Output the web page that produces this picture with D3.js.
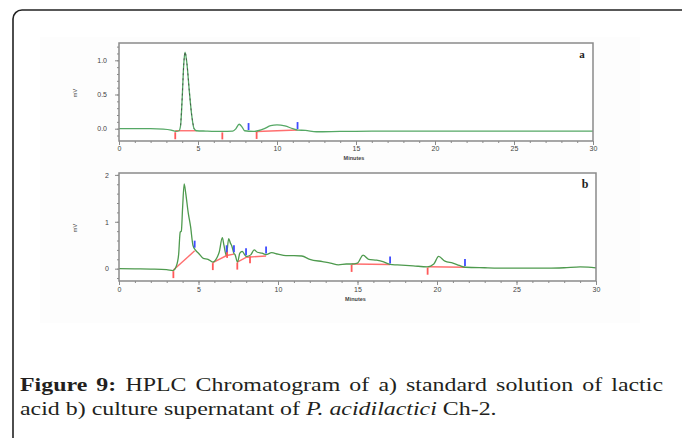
<!DOCTYPE html>
<html lang="en">
<head>
<meta charset="UTF-8">
<title>HPLC Chromatogram</title>
<script src="https://cdn.jsdelivr.net/npm/d3@7"></script>
<style>
  body { margin: 0; background: #fff; }
  svg { display: block; font-family: Arial, "Liberation Sans", sans-serif; }
  .frame { fill: none; stroke: #8a8a8a; stroke-width: 1.5; }
  .axis text { font-size: 7px; fill: #444; }
  .axis line { stroke: #8a8a8a; }
  .caption { font-family: "Palatino Linotype", Palatino, "Book Antiqua", "Liberation Serif", serif; font-size: 18.5px; fill: #231f20; }
</style>
</head>
<body>
<svg width="682" height="438"></svg>
<script>
// ---- panel a: standard lactic acid ----
const timeA   = [0, 1, 2, 2.8, 3.3, 3.6, 3.8, 3.9, 4.0, 4.1, 4.18, 4.3, 4.45, 4.6, 4.75, 4.9, 5.5, 6.5, 7.2, 7.4, 7.6, 7.8, 7.95, 8.5, 8.8, 9.2, 9.6, 10.0, 10.5, 11.0, 11.3, 11.8, 12.5, 14, 16, 20, 25, 28, 30];
const signalA = [0, 0, 0, -0.005, -0.02, -0.04, -0.03, 0.05, 0.45, 0.95, 1.12, 0.95, 0.55, 0.2, 0.0, -0.03, -0.035, -0.04, -0.035, 0.0, 0.065, 0.02, -0.03, -0.04, -0.03, 0.0, 0.045, 0.055, 0.04, 0.0, -0.02, -0.025, -0.045, -0.04, -0.035, -0.035, -0.035, -0.035, -0.035];
const startTicksA = [3.56, 6.54, 8.71];
const endTicksA   = [8.2, 11.3];
const baselinesA  = [
  [[3.56, -0.03], [4.9, -0.03]],
  [[8.71, -0.04], [11.3, -0.02]]
];

// ---- panel b: culture supernatant ----
const timeB   = [0, 1, 2, 3, 3.4, 3.6, 3.75, 3.85, 3.92, 4.0, 4.1, 4.2, 4.35, 4.5, 4.65, 4.8, 5.0, 5.3, 5.6, 5.9, 6.1, 6.3, 6.5, 6.6, 6.75, 6.9, 7.0, 7.1, 7.22, 7.3, 7.45, 7.6, 7.75, 7.9, 8.0, 8.15, 8.3, 8.5, 8.7, 9.0, 9.25, 9.6, 10.0, 10.5, 11.0, 11.5, 12.0, 12.8, 13.3, 13.8, 14.3, 14.6, 15.0, 15.35, 15.7, 16.2, 16.6, 17.05, 17.5, 18.5, 19.4, 19.8, 20.1, 20.5, 21.0, 21.4, 21.8, 23, 25, 27, 28, 29, 29.5, 30];
const signalB = [0, -0.005, -0.01, -0.02, -0.04, 0.05, 0.3, 0.78, 0.8, 1.3, 1.81, 1.6, 1.2, 0.9, 0.5, 0.4, 0.33, 0.22, 0.2, 0.14, 0.2, 0.35, 0.66, 0.5, 0.28, 0.64, 0.55, 0.48, 0.33, 0.3, 0.14, 0.33, 0.37, 0.3, 0.26, 0.27, 0.3, 0.4, 0.35, 0.33, 0.3, 0.34, 0.31, 0.28, 0.28, 0.27, 0.2, 0.15, 0.12, 0.08, 0.1, 0.1, 0.12, 0.29, 0.2, 0.18, 0.15, 0.09, 0.08, 0.06, 0.04, 0.1, 0.26, 0.16, 0.12, 0.07, 0.03, 0.02, 0.01, 0.01, 0.02, 0.04, 0.035, 0.015];
const startTicksB = [3.42, 5.9, 6.8, 7.44, 8.24, 14.63, 19.41];
const endTicksB   = [4.76, 6.77, 7.23, 7.99, 9.25, 17.05, 21.76];
const baselinesB  = [
  [[3.42, -0.03], [4.76, 0.38]],
  [[5.9, 0.13], [6.77, 0.28], [7.23, 0.31]],
  [[7.44, 0.14], [7.99, 0.24], [8.24, 0.25], [9.25, 0.27]],
  [[14.63, 0.1], [17.05, 0.09]],
  [[19.41, 0.04], [21.76, 0.03]]
];

const xTicks = [0, 5, 10, 15, 20, 25, 30];
const captionBold = "Figure 9:";
const captionLine1 = "HPLC Chromatogram of a) standard solution of lactic";
const captionLine2a = "acid b) culture supernatant of ";
const captionItalic = "P. acidilactici";
const captionLine2b = " Ch-2.";

const svg = d3.select("svg");

// outer rounded frame and faint image background
svg.append("rect").attr("x", 13).attr("y", 10).attr("width", 720).attr("height", 470)
   .attr("rx", 9).attr("fill", "none").attr("stroke", "#222").attr("stroke-width", 1.6);
svg.append("rect").attr("x", 40).attr("y", 37).attr("width", 600).attr("height", 286)
   .attr("fill", "#fdfdfd");

function interp(ts, vs, t) {
  const i = d3.bisectRight(ts, t);
  if (i <= 0) return vs[0];
  if (i >= ts.length) return vs[vs.length - 1];
  const f = (t - ts[i - 1]) / (ts[i] - ts[i - 1]);
  return vs[i - 1] + f * (vs[i] - vs[i - 1]);
}

function drawPanel(p) {
  const x = d3.scaleLinear().domain([0, 30]).range([p.left, p.right]);
  const y = d3.scaleLinear().domain(p.yDomain).range([p.bottom, p.top]);
  const g = svg.append("g");

  g.append("rect").attr("fill", "#fff")
   .attr("x", p.left).attr("y", p.top).attr("width", p.right - p.left).attr("height", p.bottom - p.top);

  // minor + major x ticks
  g.append("g").attr("class", "axis").attr("transform", `translate(0,${p.bottom})`)
   .call(d3.axisBottom(x).tickValues(d3.range(0, 31, 1)).tickSize(2).tickFormat(""))
   .call(a => a.select(".domain").remove());
  g.append("g").attr("class", "axis").attr("transform", `translate(0,${p.bottom})`)
   .call(d3.axisBottom(x).tickValues(xTicks).tickSize(4).tickPadding(p.xPad).tickFormat(d3.format("d")))
   .call(a => a.select(".domain").remove());

  g.append("g").attr("class", "axis").attr("transform", `translate(${p.left},0)`)
   .call(d3.axisLeft(y).tickValues(p.yMinor).tickSize(2).tickFormat(""))
   .call(a => a.select(".domain").remove());
  g.append("g").attr("class", "axis").attr("transform", `translate(${p.left},0)`)
   .call(d3.axisLeft(y).tickValues(p.yTicks).tickSize(4).tickPadding(p.yPad).tickFormat(d3.format(p.yFmt)))
   .call(a => a.select(".domain").remove());

  // integration baselines
  const bl = d3.line().x(d => x(d[0])).y(d => y(d[1]));
  g.selectAll(".base").data(p.baselines).join("path")
   .attr("d", bl).attr("fill", "none").attr("stroke", "#ff6f6f").attr("stroke-width", 1.4);

  // signal
  const pts = p.time.map((t, i) => [t, p.signal[i]]);
  const line = d3.line().x(d => x(d[0])).y(d => y(d[1])).curve(d3.curveMonotoneX);
  g.append("path").attr("d", line(pts)).attr("fill", "none")
   .attr("stroke", p.color).attr("stroke-width", 1.3);
  if (p.dashFrom !== undefined) {
    g.append("path").attr("d", line(pts.filter(d => d[0] >= p.dashFrom && d[0] <= p.dashTo)))
     .attr("fill", "none").attr("stroke", "#444").attr("stroke-width", 0.8).attr("stroke-dasharray", "2,3");
  }

  // peak start / end markers
  g.selectAll(".st").data(p.starts).join("line")
   .attr("x1", d => x(d)).attr("x2", d => x(d))
   .attr("y1", d => y(interp(p.time, p.signal, d)) + 1)
   .attr("y2", d => y(interp(p.time, p.signal, d)) + 8)
   .attr("stroke", "#ff5a5a").attr("stroke-width", 1.8);
  g.selectAll(".en").data(p.ends).join("line")
   .attr("x1", d => x(d)).attr("x2", d => x(d))
   .attr("y1", d => y(interp(p.time, p.signal, d)) - 1)
   .attr("y2", d => y(interp(p.time, p.signal, d)) - 8)
   .attr("stroke", "#3f4cff").attr("stroke-width", 1.8);

  g.append("rect").attr("class", "frame")
   .attr("x", p.left).attr("y", p.top).attr("width", p.right - p.left).attr("height", p.bottom - p.top);

  g.append("text").attr("x", (p.left + p.right) / 2 - 2).attr("y", p.bottom + p.minutesDy)
   .attr("text-anchor", "middle").attr("font-size", 5.5).attr("font-weight", "bold").attr("fill", "#444")
   .text("Minutes");
  g.append("text").attr("transform", `translate(77,${p.mvY}) rotate(-90)`)
   .attr("text-anchor", "middle").attr("font-size", 5.5).attr("fill", "#444").text("mV");
  g.append("text").attr("x", p.right - 11).attr("y", p.top + 15).attr("text-anchor", "middle")
   .attr("font-family", "'Liberation Serif', serif").attr("font-weight", "bold")
   .attr("font-size", p.tagSize).attr("fill", "#222").text(p.tag);
}

drawPanel({
  left: 119, right: 593, top: 43, bottom: 141, yDomain: [-0.18, 1.253],
  yTicks: [0, 0.5, 1.0], yMinor: d3.range(-1, 13).map(d => d / 10), yFmt: ".1f", yPad: 8, xPad: 1,
  time: timeA, signal: signalA, starts: startTicksA, ends: endTicksA, baselines: baselinesA,
  color: "#55a865", dashFrom: 3.85, dashTo: 4.75, minutesDy: 18.5, mvY: 93, tag: "a", tagSize: 11
});
drawPanel({
  left: 119, right: 596, top: 173, bottom: 281, yDomain: [-0.263, 2.04],
  yTicks: [0, 1, 2], yMinor: d3.range(-1, 11).map(d => d / 5), yFmt: "d", yPad: 6, xPad: 2,
  time: timeB, signal: signalB, starts: startTicksB, ends: endTicksB, baselines: baselinesB,
  color: "#4e9a4e", minutesDy: 19.5, mvY: 228, tag: "b", tagSize: 12
});

// caption: first line justified, second left aligned
const cap = svg.append("g").attr("class", "caption");
const l2 = cap.append("text").attr("y", 415);
l2.append("tspan").text(captionLine2a);
l2.append("tspan").attr("font-style", "italic").text(captionItalic);
l2.append("tspan").text(captionLine2b);
const natural2 = l2.node().getComputedTextLength();
const sx = 477 / natural2;
cap.attr("transform", `translate(20,0) scale(${sx},1)`);

const words = [captionBold.split(" "), captionLine1.split(" ")];
const wordList = [];
words[0].forEach(w => wordList.push({ w, bold: true }));
words[1].forEach(w => wordList.push({ w, bold: false }));
const l1 = cap.append("g");
const nodes = l1.selectAll("text").data(wordList).join("text")
  .attr("y", 391).attr("font-weight", d => d.bold ? "bold" : "normal").text(d => d.w);
const widths = nodes.nodes().map(n => n.getComputedTextLength());
const target = 643 / sx;
const gap = (target - d3.sum(widths)) / (wordList.length - 1);
let cx = 0;
nodes.attr("x", (d, i) => { const v = cx; cx += widths[i] + gap; return v; });
</script>
</body>
</html>
